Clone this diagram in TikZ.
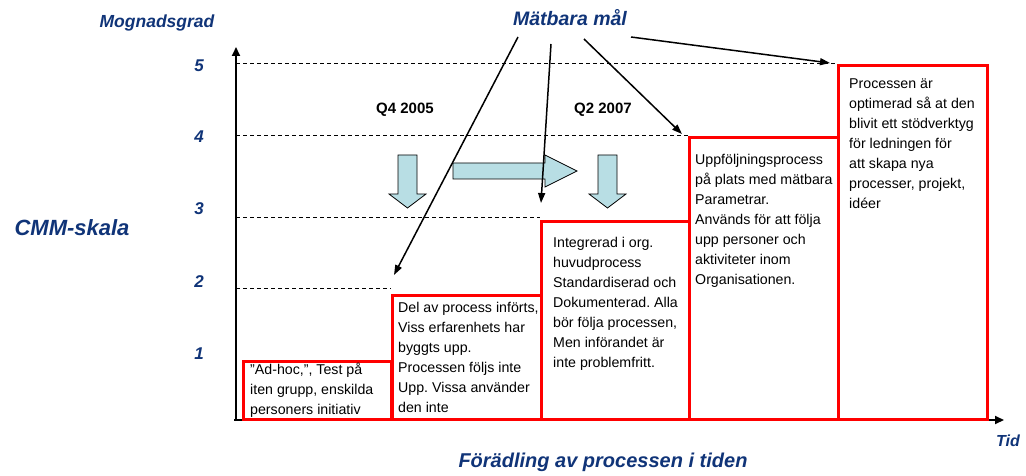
\documentclass[tikz,border=0pt]{standalone}
\usepackage{fontspec}
\setmainfont{Liberation Sans}
\usetikzlibrary{arrows.meta,calc}
\definecolor{navy}{RGB}{16,52,120}
\definecolor{redline}{RGB}{255,0,0}
\definecolor{arrowfill}{RGB}{184,222,228}
\frenchspacing
\begin{document}
\begin{tikzpicture}[x=1pt,y=-1pt,
  bluelabel/.style={text=navy, font=\bfseries\itshape\fontsize{#1}{#1}\selectfont, inner sep=0pt},
  numlabel/.style={bluelabel=17},
  axisline/.style={line width=2pt, -{Triangle[length=9pt,width=8pt]}},
  gridline/.style={line width=1pt, dash pattern=on 4pt off 3pt},
  redbox/.style={draw=redline, line width=3pt, anchor=north west, inner sep=0pt},
  boxtext/.style={anchor=north west, inner sep=0pt, align=left, font=\fontsize{14.2}{20}\selectfont},
  qlabel/.style={font=\bfseries\fontsize{15}{15}\selectfont, inner sep=0pt},
  blockarrow/.style={draw=black, line width=0.8pt, fill=arrowfill},
  goalarrow/.style={line width=1.5pt, -{Triangle[length=10pt,width=7pt]}}
]
\useasboundingbox (0,0) rectangle (1026,476);

% axes
\coordinate (origin) at (236,421);
\coordinate (ytip) at (236,47);
\coordinate (xorigin) at (234,420);
\coordinate (xtip) at (1004,420);

% grid (dashed) lines
\coordinate (g5a) at (236,64);  \coordinate (g5b) at (837,64);
\coordinate (g4a) at (236,136); \coordinate (g4b) at (688,136);
\coordinate (g3a) at (236,217); \coordinate (g3b) at (540,217);
\coordinate (g2a) at (236,288); \coordinate (g2b) at (391,288);
\draw[gridline] (g5a) -- (g5b);
\draw[gridline] (g4a) -- (g4b);
\draw[gridline] (g3a) -- (g3b);
\draw[gridline] (g2a) -- (g2b);

\draw[axisline] (origin) -- (ytip);
\draw[axisline] (xorigin) -- (xtip);

% scale labels
\node[bluelabel=17.5] (mogn) at (157,23) {Mognadsgrad};
\node[bluelabel=22] (cmm) at (72,228) {CMM-skala};
\node[numlabel] (n5) at (199,66) {5};
\node[numlabel] (n4) at (199,137) {4};
\node[numlabel] (n3) at (199,209) {3};
\node[numlabel] (n2) at (199,282) {2};
\node[numlabel] (n1) at (199,354) {1};
\node[bluelabel=16] (tid) at (1008,441) {Tid};
\node[bluelabel=20] (fora) at (603,462) {Förädling av processen i tiden};
\node[bluelabel=19.5] (mal) at (570,18) {Mätbara mål};

% red boxes
\node[redbox, minimum width=148pt, minimum height=58pt] (b1) at (242,360) {};
\node[redbox, minimum width=149pt, minimum height=124pt] (b2) at (391,294) {};
\node[redbox, minimum width=148pt, minimum height=198pt] (b3) at (540,220) {};
\node[redbox, minimum width=149pt, minimum height=282pt] (b4) at (688,136) {};
\node[redbox, minimum width=149pt, minimum height=354pt] (b5) at (837,64) {};

\node[boxtext] (t1) at (250,363) {”Ad-hoc,”, Test på\\iten grupp, enskilda\\personers initiativ};
\node[boxtext] (t2) at (398,302) {Del av process införts,\\Viss erfarenhets har\\byggts upp.\\Processen följs inte\\Upp. Vissa använder\\den inte};
\node[boxtext] (t3) at (553,237) {Integrerad i org.\\huvudprocess\\Standardiserad och\\Dokumenterad. Alla\\bör följa processen,\\Men införandet är\\inte problemfritt.};
\node[boxtext] (t4) at (695,154) {Uppföljningsprocess\\på plats med mätbara\\Parametrar.\\Används för att följa\\upp personer och\\aktiviteter inom\\Organisationen.};
\node[boxtext] (t5) at (849,79) {Processen är\\optimerad så at den\\blivit ett stödverktyg\\för ledningen för\\att skapa nya\\processer, projekt,\\idéer};

% quarter labels
\node[qlabel] (q4) at (405,110) {Q4 2005};
\node[qlabel] (q2) at (603,110) {Q2 2007};

% block arrows
\draw[blockarrow] (398,155) -- (417,155) -- (417,194) -- (426,194) -- (407.5,208) -- (389,194) -- (398,194) -- cycle;
\draw[blockarrow] (598,155) -- (617,155) -- (617,194) -- (626,194) -- (607.5,208) -- (589,194) -- (598,194) -- cycle;
\draw[blockarrow] (453,163) -- (545,163) -- (545,155) -- (577,171) -- (545,187) -- (545,179) -- (453,179) -- cycle;

% goal arrows
\coordinate (s1) at (518,37);  \coordinate (e1) at (394,275);
\coordinate (s2) at (551,44);  \coordinate (e2) at (541,203);
\coordinate (s3) at (584,39);  \coordinate (e3) at (682,134);
\coordinate (s4) at (631,37);  \coordinate (e4) at (830,63);
\draw[goalarrow] (s1) -- (e1);
\draw[goalarrow] (s2) -- (e2);
\draw[goalarrow] (s3) -- (e3);
\draw[goalarrow] (s4) -- (e4);
\end{tikzpicture}
\end{document}
